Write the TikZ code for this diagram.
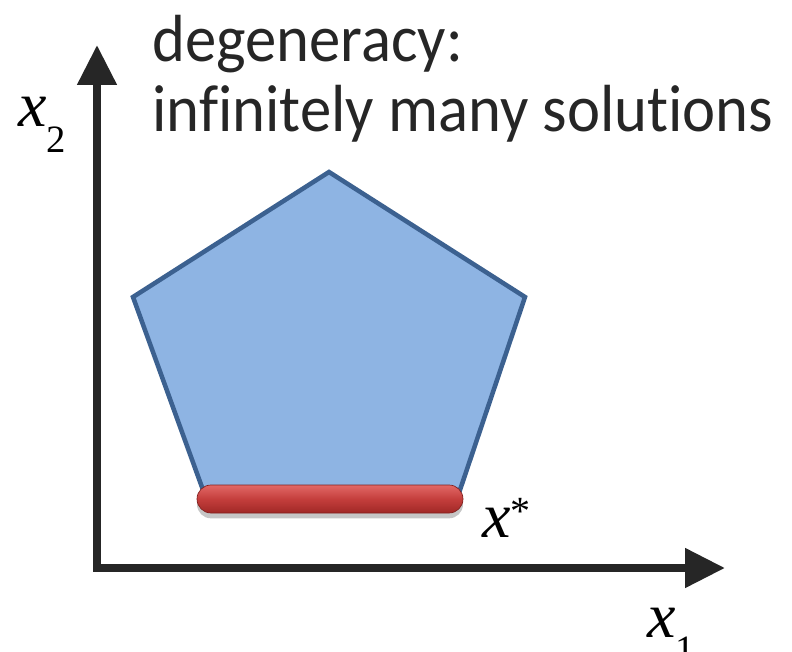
\documentclass[tikz,border=0pt]{standalone}
\usepackage{fontspec}
\setmainfont{Carlito}[Ligatures=NoCommon]
\newfontfamily\tms{Liberation Serif}
\usetikzlibrary{positioning,arrows.meta,shadows}
\definecolor{axisgray}{RGB}{38,38,38}
\definecolor{polyfill}{RGB}{142,180,227}
\definecolor{polyline}{RGB}{60,97,144}
\definecolor{optred}{RGB}{196,62,60}
\definecolor{optlight}{RGB}{226,104,102}
\definecolor{optdark}{RGB}{160,40,38}
\newcommand{\subvar}[2]{{\tms\itshape #1}\raisebox{-19pt}{\fontsize{29}{29}\tms #2}}
\newcommand{\supvar}[2]{{\tms\itshape #1}\raisebox{9.6pt}{\fontsize{30}{30}\tms #2}}
\newcommand{\narrow}[1]{\scalebox{0.94}[1]{#1}}
\tikzset{
  axis/.style={line width=6pt,axisgray,line join=miter,{Triangle[length=30pt,width=28.5pt]}-{Triangle[length=30pt,width=28.5pt]}},
  region/.style={fill=polyfill,draw=polyline,line width=3.4pt,line join=miter},
  optimum/.style={rounded corners=10.5pt,top color=optlight,bottom color=optdark,middle color=optred,draw=optdark!80!black,line width=0.5pt,drop shadow={shadow xshift=0pt,shadow yshift=-4pt,opacity=0.45}},
  varlab/.style={inner sep=0pt,anchor=base west,font=\fontsize{48}{48}\selectfont},
  title/.style={inner sep=0pt,anchor=base west,font=\fontsize{50}{52}\selectfont,text=axisgray}
}
\begin{document}
\begin{tikzpicture}[x=0.75pt,y=-0.75pt]
  \useasboundingbox (0,0) rectangle (792,652);
  % axes
  \coordinate (origin) at (97,568);
  \coordinate (x1tip) at (725,568);
  \coordinate (x2tip) at (97,45);
  \draw[axis] (x2tip) -- (origin) -- (x1tip);
  % feasible region
  \coordinate (ptop) at (329,172);
  \coordinate (pleft) at (133,297);
  \coordinate (pright) at (525,297);
  \coordinate (pbr) at (460,490);
  \coordinate (pbl) at (203,490);
  \draw[region] (ptop) -- (pright) -- (pbr) -- (pbl) -- (pleft) -- cycle;
  % optimal edge
  \path[optimum] (197,485) rectangle (463,513);
  % labels
  \node[varlab] (labx2) at (18,127) {\subvar{x}{2}};
  \node[varlab] (labx1) at (647,637) {\subvar{x}{1}};
  \node[varlab] (labxs) at (482,537) {\supvar{x}{*}};
  \node[title] (head) at (152,62) {\narrow{degeneracy:}};
  \node[title] (subhead) at (152,132) {\narrow{infinitely many solutions}};
\end{tikzpicture}
\end{document}
